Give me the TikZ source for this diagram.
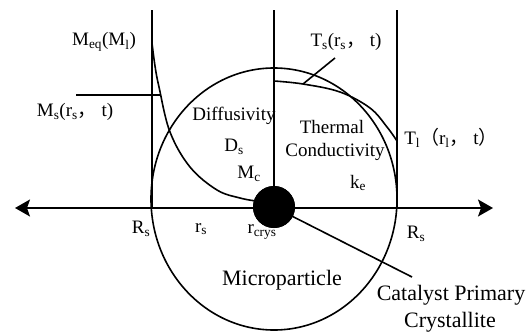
\documentclass[tikz,border=0pt]{standalone}
\usepackage{fontspec}
\setmainfont{Liberation Serif}
\newfontfamily\cjk{Noto Sans CJK SC}
\usetikzlibrary{arrows.meta}
\tikzset{
  lbl/.style={font=\fontsize{19}{21}\selectfont, inner sep=0pt},
  biglbl/.style={font=\fontsize{22}{24}\selectfont, inner sep=0pt},
  ln/.style={line width=1.3pt},
  crv/.style={line width=1.6pt},
  axis/.style={line width=1.4pt, {Stealth[length=15pt,width=17pt,inset=3pt]}-{Stealth[length=15pt,width=17pt,inset=3pt]}}
}
\begin{document}
\begin{tikzpicture}[x=1pt,y=-1pt]
\useasboundingbox (0,0) rectangle (529,332);
% coordinates
\coordinate (axL) at (15,208);
\coordinate (axR) at (493,208);
\coordinate (lTop) at (152,10);
\coordinate (lBot) at (152,208);
\coordinate (cTop) at (274,10);
\coordinate (rTop) at (397,10);
\coordinate (rBot) at (397,208);
\coordinate (msL) at (76,95);
\coordinate (msR) at (160,95);
\coordinate (tsK) at (303,84);
\coordinate (tsE) at (335,58);
\coordinate (catE) at (412,277);
\coordinate (ctr) at (274,199);
% big particle
\draw[crv] (ctr) ellipse [x radius=123, y radius=131];
% axis
\draw[axis] (axL) -- (axR);
% vertical lines
\draw[ln] (lTop) -- (lBot);
\draw[ln] (rTop) -- (rBot);
% crystallite dot
\node[circle, fill=black, minimum size=42pt, inner sep=0pt] (dot) at (274,207) {};
\draw[ln] (cTop) -- (dot.north);
% moisture curve
\draw[crv] plot[smooth, tension=0.6] coordinates {(152,43) (155,66) (159,87) (170,132) (190,167) (217,190) (240,198) (256,201)};
\draw[ln] (msL) -- (msR);
% temperature curve
\draw[crv] plot[smooth, tension=0.6] coordinates {(274,81) (303,84) (340,92) (370,108) (387,127) (397,141)};
% leaders
\draw[crv] (tsK) -- (tsE);
\draw[crv] (dot.center) -- (catE);
\node[circle, fill=black, minimum size=42pt, inner sep=0pt] at (274,207) {};
% labels
\node[lbl] (meq) at (104,42) {M\textsubscript{eq}(M\textsubscript{l})};
\node[lbl] (ms) at (75,112) {M\textsubscript{s}(r\textsubscript{s}{\cjk ，} t)};
\node[lbl] (diff) at (234,116) {Diffusivity};
\node[lbl] (ds) at (234,147) {D\textsubscript{s}};
\node[lbl] (mc) at (249,174) {M\textsubscript{c}};
\node[lbl] (th) at (332,127) {Thermal};
\node[lbl] (cond) at (335,152) {Conductivity};
\node[lbl] (ke) at (358,183) {k\textsubscript{e}};
\node[lbl] (ts) at (346,42) {T\textsubscript{s}(r\textsubscript{s}{\cjk ，} t)};
\node[lbl] (tl) at (451,138) {T\textsubscript{l}{\cjk （}r\textsubscript{l}{\cjk ，} t{\cjk ）}};
\node[lbl] (rsl) at (141,229) {R\textsubscript{s}};
\node[lbl] (rs) at (201,229) {r\textsubscript{s}};
\node[lbl] (rc) at (262,232) {r\textsubscript{crys}};
\node[lbl] (rsr) at (416,234) {R\textsubscript{s}};
\node[biglbl] (mp) at (282,280) {Microparticle};
\node[biglbl] (cat1) at (451,295) {Catalyst Primary};
\node[biglbl] (cat2) at (450,322) {Crystallite};
\end{tikzpicture}
\end{document}
